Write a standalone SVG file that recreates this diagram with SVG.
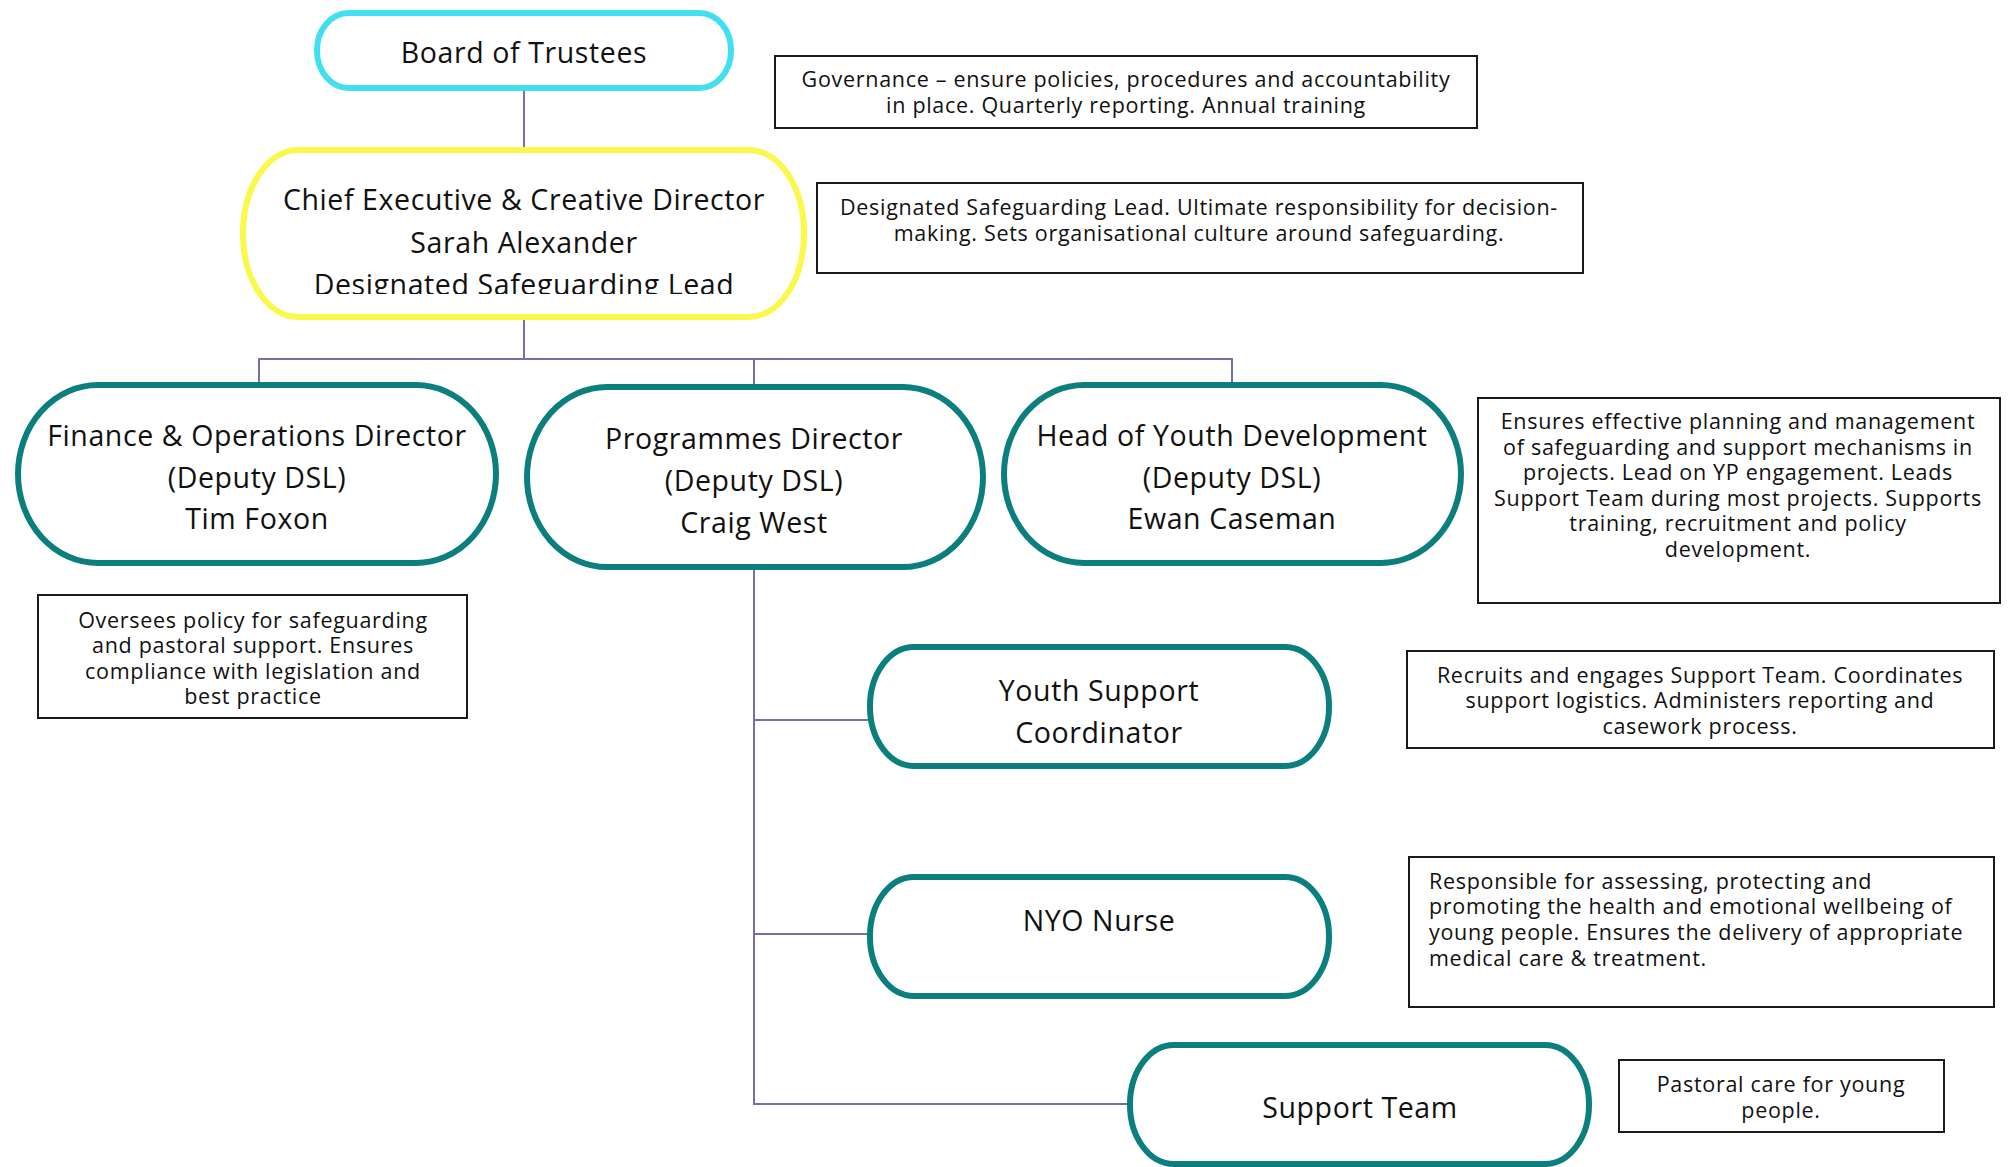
<svg xmlns="http://www.w3.org/2000/svg" width="2008" height="1167" viewBox="0 0 2008 1167">
<defs>
<style>
.pill{fill:#ffffff;stroke-width:6}
.teal{stroke:#0B7F7E}
.cyan{stroke:#42DFF1}
.yellow{stroke:#FAF84A}
.box{fill:#ffffff;stroke:#1a1a1a;stroke-width:2}
.big{font-family:"Open Sans","Liberation Sans",sans-serif;font-size:28.5px;letter-spacing:0.6px;fill:#111;text-anchor:middle}
.small{font-family:"Open Sans","Liberation Sans",sans-serif;font-size:21.5px;letter-spacing:0.7px;fill:#111;text-anchor:middle}
.left{text-anchor:start}
.conn{fill:none;stroke:#7470A8;stroke-width:2}
</style>
<clipPath id="ceoclip"><rect x="240" y="150" width="570" height="144"/></clipPath>
</defs>
<rect width="2008" height="1167" fill="#ffffff"/>
<g id="connectors">
<line class="conn" x1="524" y1="90" x2="524" y2="147"/>
<line class="conn" x1="524" y1="320" x2="524" y2="359"/>
<polyline class="conn" points="259,383 259,359 1232,359 1232,383"/>
<line class="conn" x1="754" y1="359" x2="754" y2="385"/>
<polyline class="conn" points="754,570 754,1104 1128,1104"/>
<line class="conn" x1="754" y1="720" x2="868" y2="720"/>
<line class="conn" x1="754" y1="934" x2="868" y2="934"/>
</g>
<g id="board">
<rect class="pill cyan" x="317" y="13" width="414" height="75" rx="32" ry="37"/>
<text class="big" x="524" y="63">Board of Trustees</text>
</g>
<g id="governance-note">
<rect class="box" x="775" y="56" width="702" height="72"/>
<text class="small" x="1126" y="87">Governance – ensure policies, procedures and accountability</text>
<text class="small" x="1126" y="113">in place. Quarterly reporting. Annual training</text>
</g>
<g id="ceo">
<rect class="pill yellow" x="243" y="150" width="561" height="167" rx="55" ry="83"/>
<text class="big" x="524" y="210">Chief Executive &amp; Creative Director</text>
<text class="big" x="524" y="253">Sarah Alexander</text>
<text class="big" x="524" y="295" clip-path="url(#ceoclip)">Designated Safeguarding Lead</text>
</g>
<g id="dsl-note">
<rect class="box" x="817" y="183" width="766" height="90"/>
<text class="small" x="1199" y="215">Designated Safeguarding Lead. Ultimate responsibility for decision-</text>
<text class="small" x="1199" y="241">making. Sets organisational culture around safeguarding.</text>
</g>
<g id="finance">
<rect class="pill teal" x="18" y="385" width="478" height="178" rx="80" ry="89"/>
<text class="big" x="257" y="446">Finance &amp; Operations Director</text>
<text class="big" x="257" y="488">(Deputy DSL)</text>
<text class="big" x="257" y="529">Tim Foxon</text>
</g>
<g id="finance-note">
<rect class="box" x="38" y="595" width="429" height="123"/>
<text class="small" x="253" y="628">Oversees policy for safeguarding</text>
<text class="small" x="253" y="653">and pastoral support. Ensures</text>
<text class="small" x="253" y="679">compliance with legislation and</text>
<text class="small" x="253" y="704">best practice</text>
</g>
<g id="programmes">
<rect class="pill teal" x="527" y="387" width="456" height="180" rx="80" ry="90"/>
<text class="big" x="754" y="449">Programmes Director</text>
<text class="big" x="754" y="491">(Deputy DSL)</text>
<text class="big" x="754" y="533">Craig West</text>
</g>
<g id="youth-dev">
<rect class="pill teal" x="1004" y="385" width="457" height="178" rx="80" ry="89"/>
<text class="big" x="1232" y="446">Head of Youth Development</text>
<text class="big" x="1232" y="488">(Deputy DSL)</text>
<text class="big" x="1232" y="529">Ewan Caseman</text>
</g>
<g id="youth-dev-note">
<rect class="box" x="1478" y="398" width="522" height="205"/>
<text class="small" x="1738" y="429">Ensures effective planning and management</text>
<text class="small" x="1738" y="455">of safeguarding and support mechanisms in</text>
<text class="small" x="1738" y="480">projects. Lead on YP engagement. Leads</text>
<text class="small" x="1738" y="506">Support Team during most projects. Supports</text>
<text class="small" x="1738" y="531">training, recruitment and policy</text>
<text class="small" x="1738" y="557">development.</text>
</g>
<g id="youth-support">
<rect class="pill teal" x="870" y="647" width="459" height="119" rx="44" ry="59"/>
<text class="big" x="1099" y="701">Youth Support</text>
<text class="big" x="1099" y="743">Coordinator</text>
</g>
<g id="youth-support-note">
<rect class="box" x="1407" y="651" width="587" height="97"/>
<text class="small" x="1700" y="683">Recruits and engages Support Team. Coordinates</text>
<text class="small" x="1700" y="708">support logistics. Administers reporting and</text>
<text class="small" x="1700" y="734">casework process.</text>
</g>
<g id="nurse">
<rect class="pill teal" x="870" y="877" width="459" height="119" rx="44" ry="59"/>
<text class="big" x="1099" y="931">NYO Nurse</text>
</g>
<g id="nurse-note">
<rect class="box" x="1409" y="857" width="585" height="150"/>
<text class="small left" x="1429" y="889">Responsible for assessing, protecting and</text>
<text class="small left" x="1429" y="914">promoting the health and emotional wellbeing of</text>
<text class="small left" x="1429" y="940">young people. Ensures the delivery of appropriate</text>
<text class="small left" x="1429" y="966">medical care &amp; treatment.</text>
</g>
<g id="support-team">
<rect class="pill teal" x="1130" y="1045" width="459" height="119" rx="44" ry="59"/>
<text class="big" x="1360" y="1118">Support Team</text>
</g>
<g id="support-team-note">
<rect class="box" x="1619" y="1060" width="325" height="72"/>
<text class="small" x="1781" y="1092">Pastoral care for young</text>
<text class="small" x="1781" y="1118">people.</text>
</g>
</svg>
